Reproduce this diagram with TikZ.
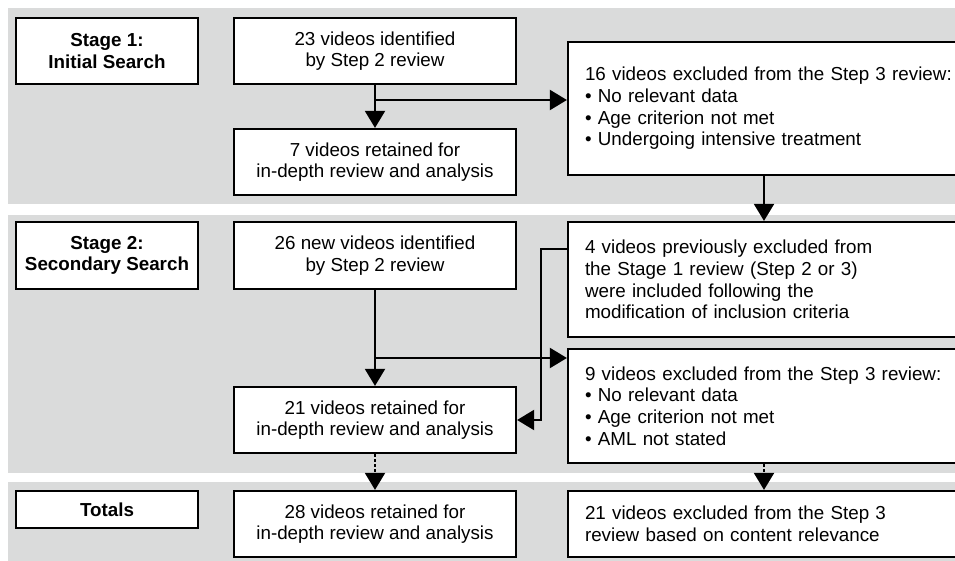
\documentclass[tikz,border=0pt]{standalone}
\usepackage{fontspec}
\setmainfont{Liberation Sans}
\usetikzlibrary{arrows.meta}
\definecolor{bandgray}{RGB}{218,219,219}
\tikzset{
  box/.style={draw=black, line width=2.2pt, fill=white, inner sep=0pt,
    font=\fontsize{18.8}{21.7}\selectfont},
  stagebox/.style={box, minimum width=182pt, align=center,
    font=\fontsize{18.8}{21.7}\selectfont\bfseries},
  midbox/.style={box, minimum width=282pt, minimum height=66pt, align=center},
  rightbox/.style={box, text width=373pt, inner xsep=17pt, align=left},
  arr/.style={line width=2pt, -{Triangle[width=20pt,length=17pt]}},
  dotarr/.style={arr, dash pattern=on 2.5pt off 2.5pt},
  band/.style={fill=bandgray, draw=none}
}
\begin{document}
\begin{tikzpicture}[x=1pt, y=-1pt]
\useasboundingbox (0,0) rectangle (955,561);
% bands
\fill[band] (8,8) rectangle (960,204);
\fill[band] (8,215) rectangle (960,473);
\fill[band] (8,482) rectangle (960,570);

% stage boxes
\node[stagebox, minimum height=66pt] (S1) at (107,51) {Stage 1:\\Initial Search};
\node[stagebox, minimum height=67pt] (S2) at (107,255.5) {Stage 2:\\Secondary Search};
\node[stagebox, minimum height=37pt] (S3) at (107,509.5) {Totals};

% middle boxes
\node[midbox] (B23) at (375,51) {23 videos identified\\by Step 2 review};
\node[midbox] (B7) at (375,162) {7 videos retained for\\in-depth review and analysis};
\node[midbox, minimum height=67pt] (B26) at (375,255.5) {26 new videos identified\\by Step 2 review};
\node[midbox] (B21) at (375,420) {21 videos retained for\\in-depth review and analysis};
\node[midbox] (B28) at (375,524) {28 videos retained for\\in-depth review and analysis};

% right boxes
\node[rightbox, minimum height=133pt] (R16) at (771.5,108.5) {16 videos excluded from the Step 3 review:\\• No relevant data\\• Age criterion not met\\• Undergoing intensive treatment};
\node[rightbox, minimum height=115pt] (R4) at (771.5,279.5) {4 videos previously excluded from\\the Stage 1 review (Step 2 or 3)\\were included following the\\modification of inclusion criteria};
\node[rightbox, minimum height=114pt] (R9) at (771.5,406) {9 videos excluded from the Step 3 review:\\• No relevant data\\• Age criterion not met\\• AML not stated};
\node[rightbox, minimum height=66pt] (R21) at (771.5,524) {21 videos excluded from the Step 3\\review based on content relevance};

% connectors
\coordinate (j1) at (375,100);
\coordinate (j2) at (375,358);
\draw[arr] (B23.south) -- (B7.north);
\draw[arr] (j1) -- (j1 -| R16.west);
\draw[arr] ([xshift=-7.5pt]R16.south) -- ([xshift=-7.5pt]R4.north);
\draw[arr] (B26.south) -- (B21.north);
\draw[arr] (j2) -- (j2 -| R9.west);
\draw[arr] ([yshift=30.5pt]R4.west) -- ++(-26,0) |- (B21.east);
\draw[dotarr] (B21.south) -- (B28.north);
\draw[dotarr] ([xshift=-7.5pt]R9.south) -- ([xshift=-7.5pt]R21.north);
\end{tikzpicture}
\end{document}
